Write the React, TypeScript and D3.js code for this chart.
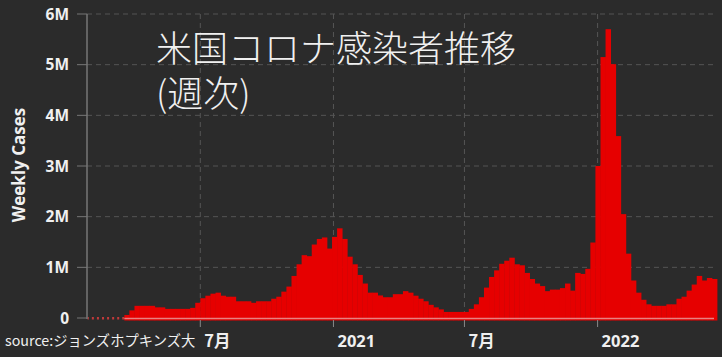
import React from 'react';
import * as d3 from 'd3';

const W = 722;
const H = 357;

// Weekly bins starting 2020-01-22, values in millions of cases
const weekStart = new Date(2020, 0, 22);
const weeklyCasesM = [
  0.0001, 0.0001, 0.0001, 0.0001, 0.0002, 0.0003, 0.001, 0.008,
  0.06, 0.15, 0.24, 0.24, 0.24, 0.24, 0.21, 0.21,
  0.18, 0.18, 0.18, 0.18, 0.18, 0.2, 0.3, 0.39,
  0.44, 0.48, 0.5, 0.44, 0.42, 0.42, 0.33, 0.33,
  0.33, 0.3, 0.33, 0.33, 0.33, 0.38, 0.42, 0.52,
  0.62, 0.83, 1.06, 1.24, 1.22, 1.45, 1.56, 1.59,
  1.37, 1.6, 1.77, 1.56, 1.21, 1.06, 0.85, 0.68,
  0.5, 0.5, 0.445, 0.41, 0.41, 0.47, 0.47, 0.53,
  0.5, 0.44, 0.38, 0.33, 0.26, 0.21, 0.17, 0.12,
  0.12, 0.12, 0.12, 0.12, 0.18, 0.27, 0.41, 0.6,
  0.81, 0.94, 1.07, 1.13, 1.19, 1.06, 1.04, 0.89,
  0.77, 0.68, 0.63, 0.53, 0.56, 0.56, 0.59, 0.68,
  0.54, 0.89, 0.87, 0.97, 1.49, 3.0, 5.15, 5.7,
  5.01, 3.59, 2.05, 1.27, 0.74, 0.5, 0.36, 0.27,
  0.24, 0.24, 0.24, 0.27, 0.27, 0.38, 0.42, 0.54,
  0.66, 0.83, 0.74, 0.79, 0.77,
];

const yTickValues = [0, 1, 2, 3, 4, 5, 6];
const yTickLabels = ['0', '1M', '2M', '3M', '4M', '5M', '6M'];
const xTickDates = [new Date(2020, 6, 1), new Date(2021, 0, 1), new Date(2021, 6, 1), new Date(2022, 0, 1)];
const xTickLabels = ['7月', '2021', '7月', '2022'];
const titleLines = ['米国コロナ感染者推移', '(週次)'];
const yAxisTitle = 'Weekly Cases';
const sourceText = 'source:ジョンズホプキンズ大';

const BG = '#2b2b2b';
const BAR = '#e60000';
const GRID = '#555555';
const TEXT = '#f0f0f0';
const LATIN = "'Open Sans', 'Noto Sans', sans-serif";
const CJK = "'Noto Sans CJK JP', 'Noto Sans', sans-serif";

export default function App() {
  const dates = weeklyCasesM.map((_, i) => d3.timeDay.offset(weekStart, 7 * i));
  const endDate = d3.timeDay.offset(weekStart, 7 * weeklyCasesM.length);
  const x = d3.scaleTime().domain([weekStart, endDate]).range([83.8, 717]);
  const y = d3.scaleLinear().domain([0, 6]).range([318, 14]);
  const axisX = 87;
  const gridRight = 713;
  const y0 = y(0);

  return (
    <svg
      width={W}
      height={H}
      viewBox={`0 0 ${W} ${H}`}
      style={{ position: 'fixed', left: 0, top: 0, display: 'block', background: BG }}
    >
      <defs>
        <clipPath id="plotClip">
          <rect x={axisX + 0.5} y={0} width={W - axisX} height={H} />
        </clipPath>
      </defs>
      <rect x={0} y={0} width={W} height={H} fill={BG} />

      {/* horizontal gridlines */}
      {yTickValues.slice(1).map((v) => (
        <line
          key={'hg' + v}
          x1={axisX}
          x2={gridRight}
          y1={y(v)}
          y2={y(v)}
          stroke={GRID}
          strokeWidth={1}
          strokeDasharray="5,4"
        />
      ))}
      {/* vertical gridlines */}
      {xTickDates.map((d, i) => (
        <line
          key={'vg' + i}
          x1={x(d)}
          x2={x(d)}
          y1={y(6)}
          y2={y0}
          stroke={GRID}
          strokeWidth={1}
          strokeDasharray="5,4"
        />
      ))}

      {/* bars */}
      <g clipPath="url(#plotClip)">
        {weeklyCasesM.map((v, i) => {
          const x0 = x(dates[i]);
          const x1 = i + 1 < dates.length ? x(dates[i + 1]) : x(endDate);
          const h = y0 - y(v);
          if (h < 1) {
            return <rect key={'b' + i} x={x0 + 3} y={y0 - 1} width={2} height={2.5} fill="#c03a3a" />;
          }
          return <rect key={'b' + i} x={x0} y={y(v)} width={x1 - x0 + 0.4} height={h + 2.5} fill={BAR} />;
        })}
        <line
          x1={x(dates[8])}
          x2={x(endDate) - 3}
          y1={y0 + 0.5}
          y2={y0 + 0.5}
          stroke="#e88080"
          strokeWidth={1.5}
        />
      </g>

      {/* y axis */}
      <line x1={axisX} x2={axisX} y1={y(6)} y2={y0 + 1} stroke="#777" strokeWidth={1.5} />
      {yTickValues.map((v, i) => (
        <g key={'yt' + v}>
          <line x1={axisX - 10} x2={axisX} y1={y(v)} y2={y(v)} stroke="#777" strokeWidth={1} />
          <text
            x={axisX - 18}
            y={y(v)}
            dy="0.36em"
            textAnchor="end"
            fill={TEXT}
            fontFamily={LATIN}
            fontWeight={700}
            fontSize={15.5}
          >
            {yTickLabels[i]}
          </text>
        </g>
      ))}
      <text
        transform={`translate(25, ${165}) rotate(-90)`}
        textAnchor="middle"
        fill={TEXT}
        fontFamily={LATIN}
        fontWeight={700}
        fontSize={17}
      >
        {yAxisTitle}
      </text>

      {/* x ticks */}
      {xTickDates.map((d, i) => (
        <g key={'xt' + i}>
          <line x1={x(d)} x2={x(d)} y1={y0 + 2} y2={y0 + 9} stroke="#888" strokeWidth={1} />
          <text
            x={x(d) + 4}
            y={341}
            dy="0.36em"
            textAnchor="start"
            fill={TEXT}
            fontFamily={i % 2 === 0 ? CJK : LATIN}
            fontWeight={700}
            fontSize={16.5}
          >
            {xTickLabels[i]}
          </text>
        </g>
      ))}

      {/* source */}
      <text x={5} y={341} dy="0.36em" fill={TEXT} fontFamily={CJK} fontSize={14.3}>
        {sourceText}
      </text>

      {/* title (two lines in one text element) */}
      <text x={156} y={62} fill={TEXT} fontFamily={CJK} fontWeight={300} fontSize={36}>
        {titleLines.map((line, i) => (
          <tspan key={'t' + i} x={156} dy={i === 0 ? 0 : 45}>
            {line}
          </tspan>
        ))}
      </text>
    </svg>
  );
}
